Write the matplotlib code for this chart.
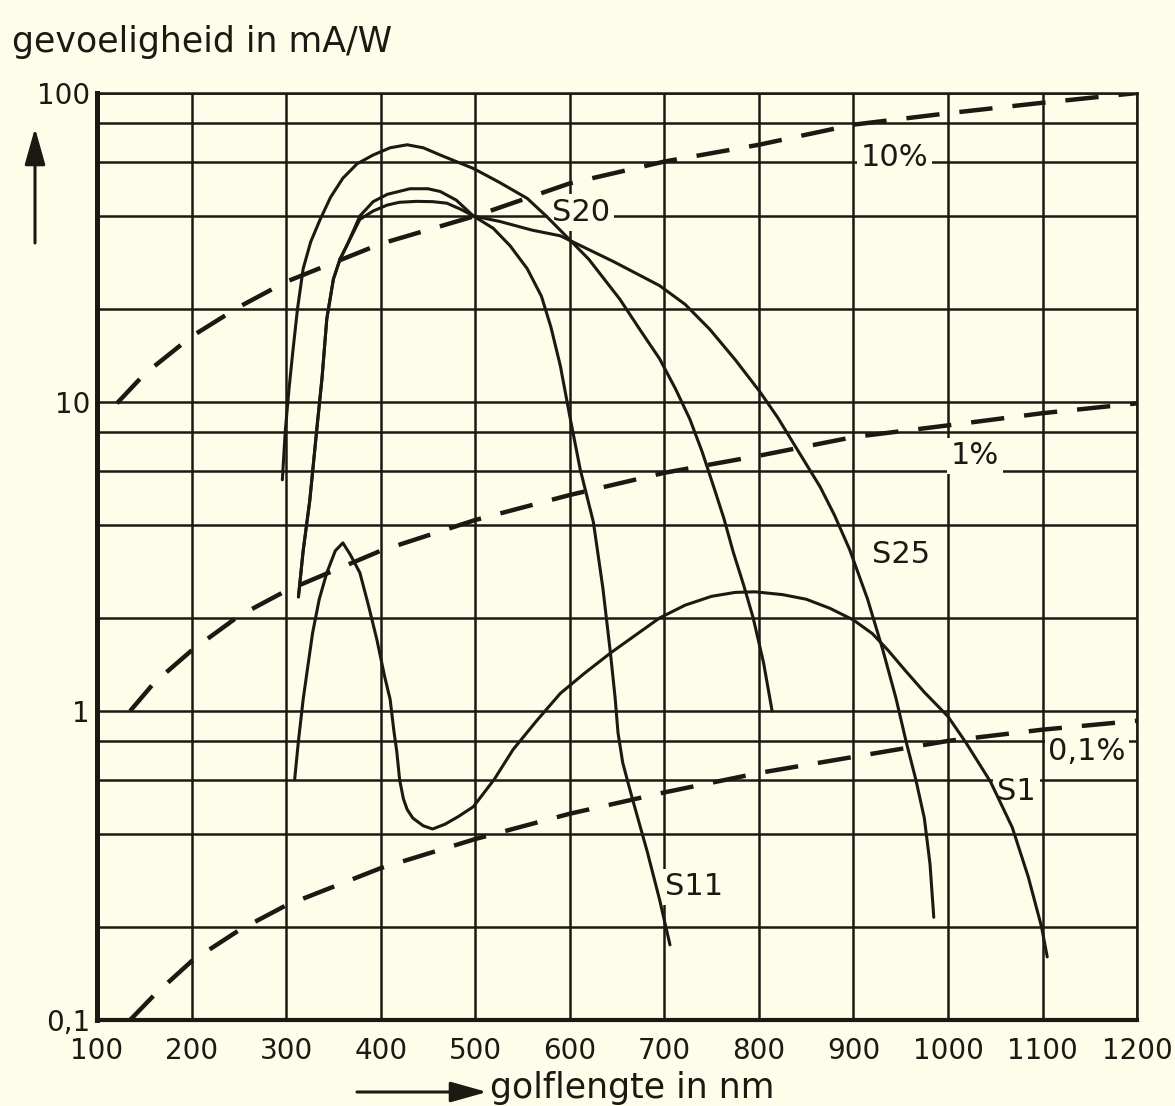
import matplotlib
matplotlib.use('Agg')
import matplotlib.pyplot as plt
from matplotlib.ticker import FixedLocator, NullFormatter

bg = '#fefde9'
ink = '#1b1a12'

# spectral sensitivity curves, wavelength in nm, sensitivity in mA/W
s20_nm = [296, 299, 303, 307, 312, 318, 326, 336, 347, 360, 375, 392, 410, 428, 445, 463, 480, 498,
          525, 555, 575, 597, 620, 653, 675, 695, 712, 727, 740, 752, 763, 773, 784, 794, 805, 814]
s20_mAW = [5.6, 8, 11, 14.5, 20, 27, 33, 39, 46, 53, 59, 63, 66.5, 68, 66.5, 63, 60, 57,
           51.5, 45.6, 40, 34.2, 29, 21.5, 17, 13.8, 11, 8.8, 6.9, 5.34, 4.2, 3.26, 2.55, 2.0, 1.43, 1.0]

s11_nm = [313, 318, 325, 333, 338, 343, 350, 357, 364, 378, 392, 407, 431, 450, 463, 480, 498, 519,
          537, 555, 570, 580, 590, 600, 611, 625, 635, 643, 648, 651, 656, 662, 667, 682, 695, 706]
s11_mAW = [2.34, 3.3, 4.8, 8.5, 12, 18.6, 25, 29, 32, 40, 44.5, 47, 49, 49, 48, 45, 40, 36.5,
           32, 27, 22, 17.5, 13.1, 9, 6.06, 4.08, 2.5, 1.54, 1.1, 0.85, 0.68, 0.58, 0.51, 0.35, 0.245, 0.175]

s25_nm = [313, 318, 325, 333, 338, 343, 350, 357, 364, 378, 392, 407, 420, 438, 455, 470, 485, 498,
          526, 560, 590, 646, 695, 722, 748, 775, 801, 820, 836, 850, 865, 880, 896, 915, 931, 945,
          956, 966, 975, 981, 985]
s25_mAW = [2.34, 3.3, 4.8, 8.5, 12, 18.6, 25, 29, 32, 39, 41.5, 43.4, 44.3, 44.6, 44.5, 44, 42, 40,
           38.4, 36, 34.5, 28.5, 23.8, 20.7, 17.2, 13.7, 10.8, 8.9, 7.4, 6.3, 5.3, 4.3, 3.33, 2.3, 1.58,
           1.1, 0.79, 0.6, 0.45, 0.32, 0.215]

s1_nm = [309, 313, 318, 323, 328, 335, 343, 352, 360, 368, 378, 387, 396, 404, 410, 414, 417, 420,
         424, 428, 434, 445, 455, 468, 482, 498, 520, 540, 565, 590, 615, 643, 665, 695, 722, 750,
         775, 796, 825, 850, 875, 900, 920, 936, 955, 975, 1000, 1019, 1045, 1068, 1085, 1099, 1105]
s1_mAW = [0.6, 0.8, 1.09, 1.4, 1.79, 2.3, 2.8, 3.3, 3.5, 3.2, 2.8, 2.2, 1.7, 1.3, 1.09, 0.86, 0.74, 0.6,
          0.52, 0.48, 0.45, 0.425, 0.415, 0.43, 0.455, 0.49, 0.6, 0.75, 0.93, 1.14, 1.32, 1.54, 1.72,
          2.0, 2.2, 2.35, 2.42, 2.43, 2.38, 2.3, 2.15, 1.97, 1.78, 1.58, 1.35, 1.15, 0.96, 0.79, 0.59,
          0.42, 0.29, 0.2, 0.16]

# lines of constant quantum efficiency (dashed)
qe10_nm = [121, 150, 200, 250, 300, 400, 500, 600, 700, 800, 900, 1000, 1100, 1200]
qe10_mAW = [9.9, 12.3, 16.3, 20.3, 24.5, 32.5, 40, 51, 60, 68, 79, 86, 93, 100]
qe1_nm = [135, 160, 200, 250, 300, 400, 500, 600, 700, 800, 900, 1000, 1100, 1200]
qe1_mAW = [1.0, 1.23, 1.57, 2.03, 2.45, 3.3, 4.15, 5.0, 5.9, 6.7, 7.7, 8.4, 9.2, 9.9]
qe01_nm = [135, 160, 200, 250, 300, 400, 500, 600, 700, 800, 900, 1000, 1100, 1200]
qe01_mAW = [0.1, 0.12, 0.155, 0.195, 0.235, 0.31, 0.385, 0.465, 0.545, 0.63, 0.71, 0.8, 0.87, 0.93]

x_ticks = list(range(100, 1300, 100))
y_ticks = [0.1, 1, 10, 100]
y_tick_labels = ['0,1', '1', '10', '100']
y_minor = [m * d for d in (0.1, 1, 10) for m in (2, 4, 6, 8)]

fig = plt.figure(figsize=(11.75, 11.06), dpi=100, facecolor=bg)
ax = fig.add_axes([0.0826, 0.0778, 0.8851, 0.8381], facecolor=bg)
ax.set_yscale('log')
ax.set_xlim(100, 1200)
ax.set_ylim(0.1, 100)

ax.set_xticks(x_ticks)
ax.set_yticks(y_ticks)
ax.set_yticklabels(y_tick_labels)
ax.yaxis.set_minor_locator(FixedLocator(y_minor))
ax.yaxis.set_minor_formatter(NullFormatter())
ax.tick_params(which='both', length=0, colors=ink, labelsize=20)
ax.tick_params(axis='x', pad=12)
ax.tick_params(axis='y', pad=5)

ax.set_axisbelow(True)
ax.grid(True, which='both', color=ink, lw=1.8)
for side in ('top', 'right'):
    ax.spines[side].set_linewidth(1.8)
    ax.spines[side].set_color(ink)
ax.spines['left'].set_linewidth(3.6)
ax.spines['bottom'].set_linewidth(3.0)
ax.spines['left'].set_color(ink)
ax.spines['bottom'].set_color(ink)

for nm, val in [(s20_nm, s20_mAW), (s11_nm, s11_mAW), (s25_nm, s25_mAW), (s1_nm, s1_mAW)]:
    ax.plot(nm, val, color=ink, lw=2.2, solid_capstyle='round', solid_joinstyle='round', zorder=3)

for nm, val in [(qe10_nm, qe10_mAW), (qe1_nm, qe1_mAW), (qe01_nm, qe01_mAW)]:
    ax.plot(nm, val, color=ink, lw=3.2, linestyle=(0, (7.5, 4.5)), dash_capstyle='butt', zorder=3)

box = dict(boxstyle='square,pad=0.12', fc=bg, ec='none')
labels = [('10%', 908, 62), ('S20', 581, 41), ('1%', 1003, 6.7), ('0,1%', 1106, 0.74),
          ('S25', 920, 3.2), ('S1', 1052, 0.55), ('S11', 701, 0.27)]
for txt, x, y in labels:
    ax.text(x, y, txt, ha='left', va='center', fontsize=22, color=ink, bbox=box, zorder=2.5)

fig.text(12 / 1175, 1 - 42 / 1106, 'gevoeligheid in mA/W', ha='left', va='center',
         fontsize=25, color=ink)
fig.text(490 / 1175, 1 - 1088 / 1106, 'golflengte in nm', ha='left', va='center',
         fontsize=25, color=ink)

arrow = dict(arrowstyle='-|>,head_length=1.6,head_width=0.45', lw=2.2, color=ink, mutation_scale=14,
             shrinkA=0, shrinkB=0)
ax.annotate('', xy=(35, 1106 - 128), xytext=(35, 1106 - 243), xycoords='figure pixels',
            textcoords='figure pixels', arrowprops=arrow)
ax.annotate('', xy=(487, 1106 - 1092), xytext=(357, 1106 - 1092), xycoords='figure pixels',
            textcoords='figure pixels', arrowprops=arrow)

fig.savefig('out.png', dpi=100, facecolor=bg)
